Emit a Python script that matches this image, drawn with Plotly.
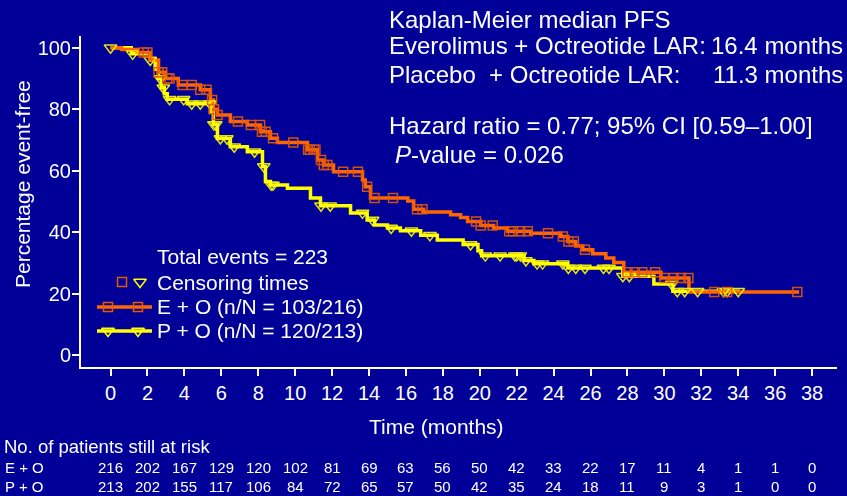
import numpy as np
import plotly.graph_objects as go

# ---------------- data ----------------
eo_t = [0, 0.6, 1.45, 2.15, 2.6, 2.97, 3.67, 4.86, 5.41, 5.57, 5.79, 6.49, 7.41, 8.12, 8.66, 9.04,
        10.67, 11.21, 11.53, 12.08, 13.65, 13.8, 14.08, 16.1, 16.42, 16.96, 18.42, 18.96, 19.34,
        20.05, 20.75, 21.51, 22.76, 24.39, 24.77, 25.2, 25.58, 26.12, 26.83, 27.26, 27.8, 29.81,
        31.33, 37.3]
eo_s = [100, 99.4, 98.4, 96, 92, 90, 87.9, 86.3, 83, 80, 78.1, 76, 74.9, 72.7, 70.6, 69.2,
        66.8, 63.5, 61.9, 59.7, 57, 54.8, 51.1, 50.2, 47.5, 46.6, 45.7, 44.8, 43.5,
        42.2, 41.4, 40.3, 39.7, 38.6, 37, 35.5, 34.3, 33, 31.6, 30.2, 27, 25.1,
        20.6, 20.6]
po_t = [0, 1.12, 2.15, 2.42, 2.59, 2.75, 2.91, 3.07, 4.16, 5.41, 5.57, 5.79, 6.49, 7.41, 8.23,
        8.39, 8.66, 9.58, 10.83, 11.37, 13.0, 13.9, 14.3, 15.0, 15.7, 16.8, 17.7, 19.1, 19.9,
        20.1, 22.4, 22.93, 24.77, 27.75, 29.43, 30.46, 34.1]
po_s = [100, 98, 96, 93, 90, 87, 85, 83.2, 81.8, 79, 75, 70.5, 67.8, 66.2, 61.4,
        56.5, 55.4, 54.3, 51.1, 48.6, 46.3, 44, 42.4, 41.4, 40.5, 39, 37.5, 36, 34,
        32.4, 30.8, 29.8, 28.4, 25.7, 23.2, 20.8, 20.8]

eo_cens = [1.8, 2.0, 2.6, 2.8, 3.07, 3.2, 3.9, 4.4, 4.86, 5.2, 5.5, 5.6, 5.8, 6.9, 7.6, 8.1,
           8.2, 8.4, 8.8, 9.9, 10.7, 10.8, 11.0, 11.1, 11.4, 11.55, 11.75, 12.6, 13.4, 13.9,
           14.3, 15.3, 16.6, 16.9, 19.8, 20.05, 20.7, 21.6, 21.8, 22.2, 22.6, 23.7, 24.5, 24.8,
           25.1, 25.7, 28.0, 28.4, 28.8, 29.5, 30.0, 30.5, 30.9, 31.3, 32.7, 33.4, 37.2]
po_cens = [0.0, 1.2, 2.15, 2.7, 2.86, 3.2, 3.96, 4.4, 4.86, 5.4, 5.6, 5.7, 5.95, 6.3, 6.7,
           7.8, 8.3, 8.7, 8.8, 11.4, 11.9, 13.65, 14.2, 15.2, 16.3, 17.3, 19.5, 20.3, 21.1,
           21.9, 22.0, 22.2, 22.5, 23.1, 23.4, 24.5, 24.8, 25.2, 25.7, 26.7, 27.0, 27.75,
           28.1, 30.4, 30.7, 31.1, 31.8, 33.2, 33.4, 34.0]

risk_times = list(range(0, 39, 2))
risk_eo = [216, 202, 167, 129, 120, 102, 81, 69, 63, 56, 50, 42, 33, 22, 17, 11, 4, 1, 1, 0]
risk_po = [213, 202, 155, 117, 106, 84, 72, 65, 57, 50, 42, 35, 24, 18, 11, 9, 3, 1, 0, 0]

x_ticks = list(range(0, 39, 2))
y_ticks = list(range(0, 101, 20))

# ---------------- styles ----------------
BG = "#000099"
ORANGE = "#FF6600"
ORANGE_MK = "#E85A00"
YELLOW = "#FFFF00"
WHITE = "#FFFFFF"
FONT = "Liberation Sans, Arial, sans-serif"

W, H = 847, 496
L, R, T, B = 81, 10, 36, 129
PW, PH = W - L - R, H - T - B


def pxx(x):
    return (x - L) / PW


def pxy(y):
    return (H - B - y) / PH


def step_value(times, surv, t):
    idx = np.searchsorted(np.array(times), np.array(t), side="right") - 1
    return np.array(surv)[idx]


fig = go.Figure()

# KM curves
fig.add_trace(go.Scatter(x=po_t, y=po_s, mode="lines", line=dict(color=YELLOW, width=3.5, shape="hv"),
                         hoverinfo="skip"))
fig.add_trace(go.Scatter(x=eo_t, y=eo_s, mode="lines", line=dict(color=ORANGE, width=3.5, shape="hv"),
                         hoverinfo="skip"))
# censor marks
fig.add_trace(go.Scatter(x=po_cens, y=step_value(po_t, po_s, po_cens), mode="markers",
                         marker=dict(symbol="triangle-down-open", size=11, color=YELLOW,
                                     line=dict(width=1.5, color=YELLOW)), opacity=0.9,
                         hoverinfo="skip"))
fig.add_trace(go.Scatter(x=eo_cens, y=step_value(eo_t, eo_s, eo_cens), mode="markers",
                         marker=dict(symbol="square-open", size=9, color=ORANGE_MK,
                                     line=dict(width=1.5, color=ORANGE_MK)), opacity=0.9,
                         hoverinfo="skip"))

# legend glyphs on a pixel overlay axis
leg_x = [108, 138]
fig.add_trace(go.Scatter(x=[97, 152], y=[307, 307], xaxis="x2", yaxis="y2", mode="lines",
                         line=dict(color=ORANGE, width=3.5), hoverinfo="skip"))
fig.add_trace(go.Scatter(x=leg_x, y=[307, 307], xaxis="x2", yaxis="y2", mode="markers",
                         marker=dict(symbol="square-open", size=9, color=ORANGE_MK,
                                     line=dict(width=1.5)), hoverinfo="skip"))
fig.add_trace(go.Scatter(x=[97, 152], y=[331, 331], xaxis="x2", yaxis="y2", mode="lines",
                         line=dict(color=YELLOW, width=3.5), hoverinfo="skip"))
fig.add_trace(go.Scatter(x=leg_x, y=[331, 331], xaxis="x2", yaxis="y2", mode="markers",
                         marker=dict(symbol="triangle-down-open", size=11, color=YELLOW,
                                     line=dict(width=1.5)), hoverinfo="skip"))
fig.add_trace(go.Scatter(x=[122], y=[282], xaxis="x2", yaxis="y2", mode="markers",
                         marker=dict(symbol="square-open", size=9, color=ORANGE_MK,
                                     line=dict(width=1.5)), hoverinfo="skip"))
fig.add_trace(go.Scatter(x=[140], y=[282], xaxis="x2", yaxis="y2", mode="markers",
                         marker=dict(symbol="triangle-down-open", size=11, color=YELLOW,
                                     line=dict(width=1.5)), hoverinfo="skip"))

ann = []


def text(x, y, s, size=19, xanchor="left"):
    ann.append(dict(x=pxx(x), y=pxy(y), xref="paper", yref="paper", text=s,
                    showarrow=False, xanchor=xanchor, yanchor="middle",
                    font=dict(family=FONT, size=size, color=WHITE)))


# legend text
text(155, 256, "Total events = 223", 21)
text(155, 282, "Censoring times", 21)
text(155, 306, "E + O (n/N = 103/216)", 21)
text(155, 330, "P + O (n/N = 120/213)", 21)

# top-right statistics
TS = 24
text(387, 19, "Kaplan-Meier median PFS", TS)
text(387, 46, "Everolimus + Octreotide LAR:", TS)
text(845, 46, "16.4 months", TS, xanchor="right")
text(387, 74, "Placebo  + Octreotide LAR:", TS)
text(845, 74, "11.3 months", TS, xanchor="right")
text(387, 126, "Hazard ratio = 0.77; 95% CI [0.59\u20131.00]", TS)
text(393, 154, "<i>P</i>-value = 0.026", TS)

# axis titles
text(436, 426, "Time (months)", 21, xanchor="center")
ann.append(dict(x=pxx(22), y=pxy(184), xref="paper", yref="paper", text="Percentage event-free",
                showarrow=False, textangle=-90, xanchor="center", yanchor="middle",
                font=dict(family=FONT, size=21, color=WHITE)))

# risk table
text(2, 446, "No. of patients still at risk", 18.5)
text(3, 467, "E + O", 15)
text(3, 486, "P + O", 15)
for t, a, b in zip(risk_times, risk_eo, risk_po):
    ann.append(dict(x=t, y=pxy(467), xref="x", yref="paper", text=str(a), showarrow=False,
                    xanchor="center", yanchor="middle", font=dict(family=FONT, size=15, color=WHITE)))
    ann.append(dict(x=t, y=pxy(486), xref="x", yref="paper", text=str(b), showarrow=False,
                    xanchor="center", yanchor="middle", font=dict(family=FONT, size=15, color=WHITE)))

axis_style = dict(showgrid=False, zeroline=False, showline=True, linecolor=WHITE, linewidth=2,
                  ticks="outside", ticklen=7, tickwidth=1.5, tickcolor=WHITE,
                  tickfont=dict(family=FONT, size=20, color=WHITE))

fig.update_layout(
    width=W, height=H, margin=dict(l=L, r=R, t=T, b=B),
    paper_bgcolor=BG, plot_bgcolor=BG, showlegend=False,
    xaxis=dict(range=[-1.6, 39.35], tickvals=x_ticks, **axis_style),
    yaxis=dict(range=[-3.8, 103.8], tickvals=y_ticks, ticklabelstandoff=-3, **axis_style),
    xaxis2=dict(range=[L, W - R], overlaying="x", visible=False, domain=[0, 1]),
    yaxis2=dict(range=[H - B, T], overlaying="y", visible=False, domain=[0, 1]),
    annotations=ann,
)

fig.write_html("out.html")
